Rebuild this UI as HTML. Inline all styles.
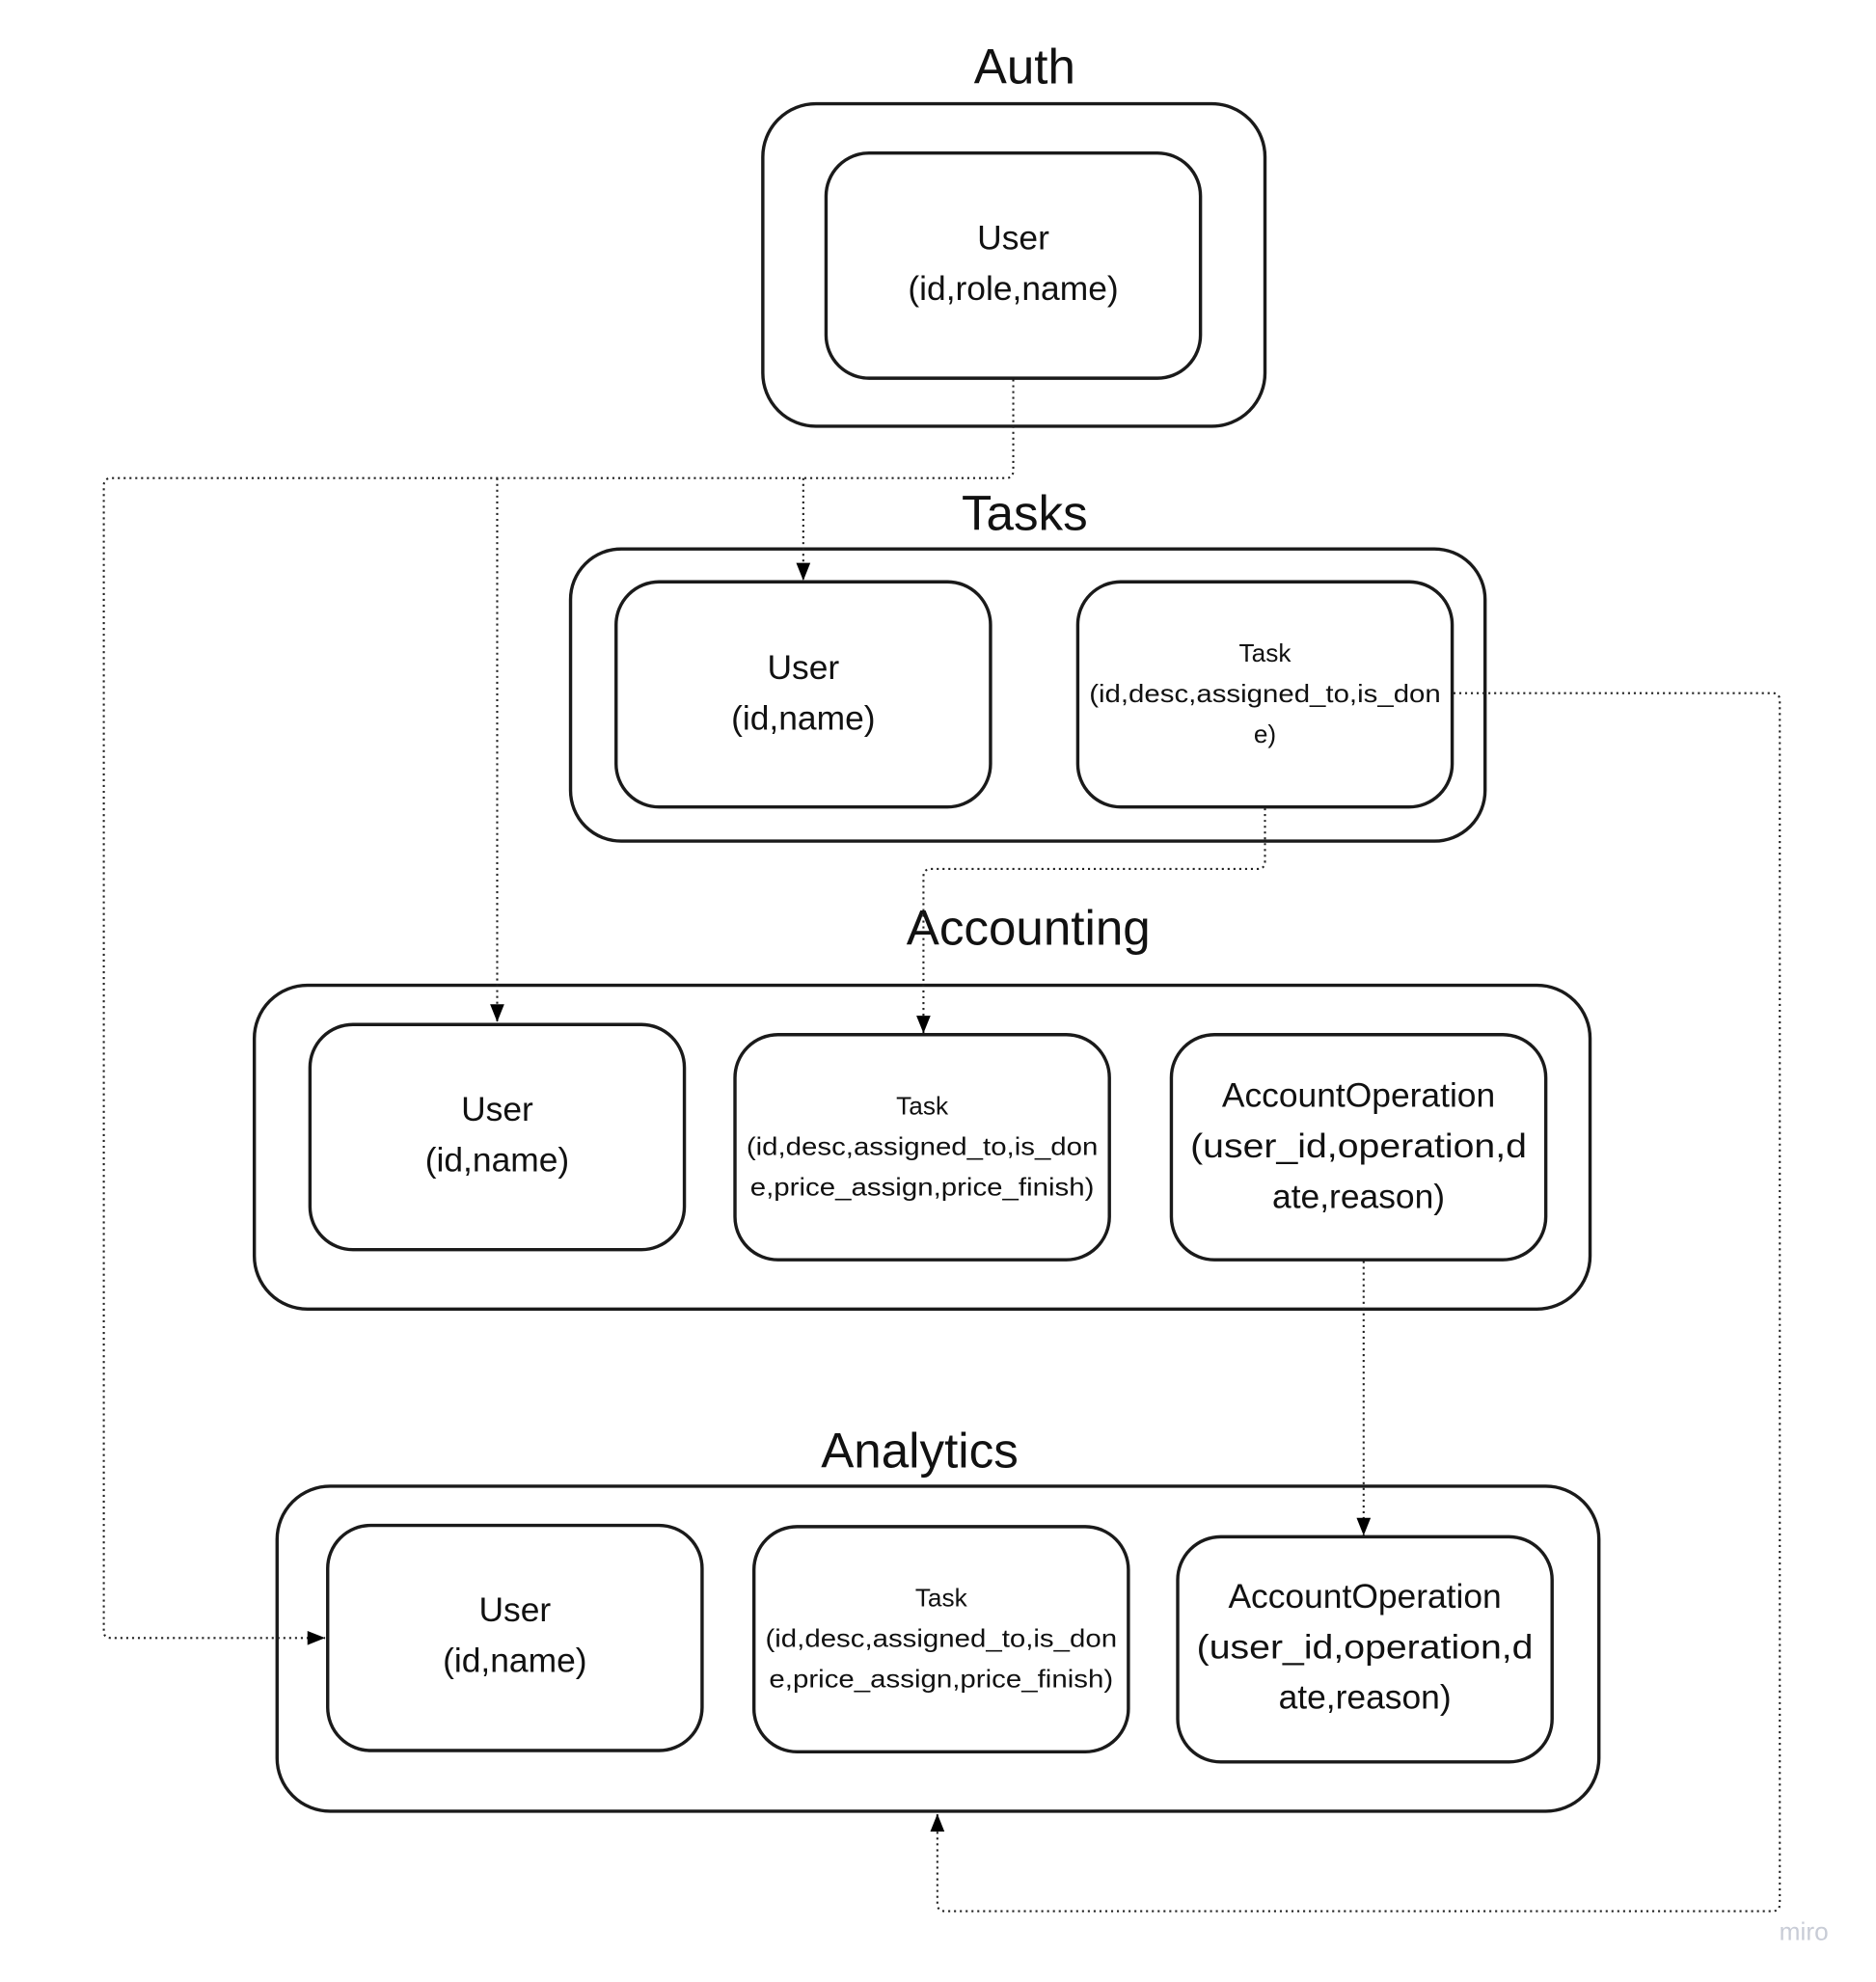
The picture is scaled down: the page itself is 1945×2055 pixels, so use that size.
<!DOCTYPE html>
<html><head><meta charset="utf-8"><style>html,body{margin:0;padding:0;background:#fff}svg{display:block}</style></head>
<body>
<svg width="1945" height="2055" viewBox="0 0 1483 1567" xmlns="http://www.w3.org/2000/svg" font-family="Liberation Sans, sans-serif" text-anchor="middle">
<defs>
<marker id="a" viewBox="0 0 10 10" refX="10" refY="5" markerWidth="18" markerHeight="14" markerUnits="userSpaceOnUse" orient="auto"><path d="M0,1 L10,5 L0,9 z" fill="#000"/></marker>
</defs>
<rect width="1483" height="1567" fill="#fff"/>
<g fill="none" stroke="#1a1a1a" stroke-width="2.6">
<rect x="603" y="82" width="397" height="255" rx="42"/>
<rect x="653" y="121" width="296" height="178" rx="34"/>
<rect x="451" y="434" width="723" height="231" rx="40"/>
<rect x="487" y="460" width="296" height="178" rx="34"/>
<rect x="852" y="460" width="296" height="178" rx="34"/>
<rect x="201" y="779" width="1056" height="256" rx="42"/>
<rect x="245" y="810" width="296" height="178" rx="34"/>
<rect x="581" y="818" width="296" height="178" rx="34"/>
<rect x="926" y="818" width="296" height="178" rx="34"/>
<rect x="219" y="1175" width="1045" height="257" rx="42"/>
<rect x="259" y="1206" width="296" height="178" rx="34"/>
<rect x="596" y="1207" width="296" height="178" rx="34"/>
<rect x="931" y="1215" width="296" height="178" rx="34"/>
</g>
<g fill="none" stroke="#222" stroke-width="1.6" stroke-dasharray="1.6 3">
<path d="M801,300 V372 Q801,378 795,378 H88 Q82,378 82,384 V1290 Q82,1295 88,1295 H257" marker-end="url(#a)"/>
<path d="M393,378 V808" marker-end="url(#a)"/>
<path d="M635,378 V459" marker-end="url(#a)"/>
<path d="M1000,639 V681 Q1000,687 994,687 H736 Q730,687 730,693 V817" marker-end="url(#a)"/>
<path d="M1149,548 H1401 Q1407,548 1407,554 V1505 Q1407,1511 1401,1511 H747 Q741,1511 741,1505 V1434" marker-end="url(#a)"/>
<path d="M1078,997 V1214" marker-end="url(#a)"/>
</g>
<g fill="#111">
<text x="810" y="66" font-size="39">Auth</text>
<text x="810" y="419" font-size="39">Tasks</text>
<text x="813" y="747" font-size="39">Accounting</text>
<text x="727" y="1160" font-size="39">Analytics</text>
<g font-size="27">
<text x="801" y="197">User</text><text x="801" y="237">(id,role,name)</text>
<text x="635" y="537">User</text><text x="635" y="577">(id,name)</text>
<text x="393" y="886">User</text><text x="393" y="926">(id,name)</text>
<text x="407" y="1282">User</text><text x="407" y="1322">(id,name)</text>
<text x="1074" y="875">AccountOperation</text><text x="1074" y="915" textLength="266" lengthAdjust="spacingAndGlyphs">(user_id,operation,d</text><text x="1074" y="955">ate,reason)</text>
<text x="1079" y="1271">AccountOperation</text><text x="1079" y="1311" textLength="266" lengthAdjust="spacingAndGlyphs">(user_id,operation,d</text><text x="1079" y="1351">ate,reason)</text>
</g>
<g font-size="20">
<text x="1000" y="523">Task</text><text x="1000" y="555" textLength="278" lengthAdjust="spacingAndGlyphs">(id,desc,assigned_to,is_don</text><text x="1000" y="587">e)</text>
<text x="729" y="881">Task</text><text x="729" y="913" textLength="278" lengthAdjust="spacingAndGlyphs">(id,desc,assigned_to,is_don</text><text x="729" y="945" textLength="272" lengthAdjust="spacingAndGlyphs">e,price_assign,price_finish)</text>
<text x="744" y="1270">Task</text><text x="744" y="1302" textLength="278" lengthAdjust="spacingAndGlyphs">(id,desc,assigned_to,is_don</text><text x="744" y="1334" textLength="272" lengthAdjust="spacingAndGlyphs">e,price_assign,price_finish)</text>
</g>
</g>
<text x="1426" y="1534" font-size="20" fill="#c8ccd6">miro</text>
</svg>
</body></html>
